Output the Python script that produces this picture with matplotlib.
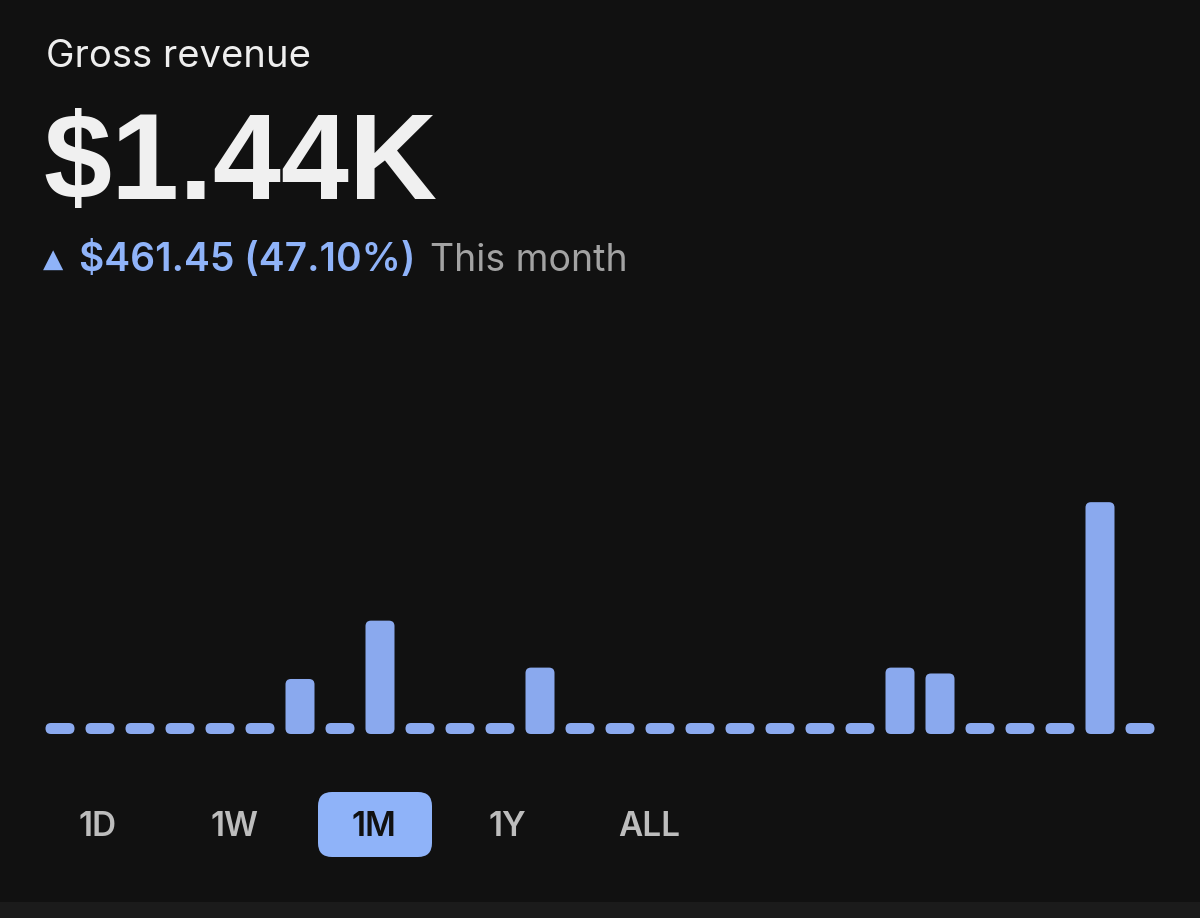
import matplotlib
matplotlib.use("Agg")
import matplotlib.pyplot as plt
from matplotlib.patches import FancyBboxPatch, Rectangle

# daily gross revenue for the month (USD)
days = list(range(1, 29))
revenue = [0, 0, 0, 0, 0, 0, 120, 0, 279, 0, 0, 0, 151, 0,
           0, 0, 0, 0, 0, 0, 0, 151, 135, 0, 0, 0, 602, 0]

title = "Gross revenue"
total_label = "$1.44K"
change_label = "$461.45 (47.10%)"
period_label = "This month"
ranges = ["1D", "1W", "1M", "1Y", "ALL"]
selected = "1M"

BG = "#111111"
BAR = "#8aa9ee"
ACCENT = "#8fb3f9"
W, H = 1200, 918

plt.rcParams['font.family'] = ['Inter', 'DejaVu Sans']

fig = plt.figure(figsize=(W / 100, H / 100), dpi=100, facecolor=BG)

# bar chart: zero line sits at y=728 px, one bar every 40 px from x=60
ax = fig.add_axes([0, (H - 728.5) / H, 1, 300 / H])
ax.set_facecolor("none")
ax.set_xlim(-1.5, 28.5)
ax.set_ylim(0, 300 * 2.726)
ax.axis("off")

x = [d - 1 for d in days]
bars = ax.bar(x, revenue, width=0.725, color=BAR)

# swap the square bars for pills; zero days become short dashes
ux = 1 / 40.0            # x data units per pixel
uy = 2.726               # y data units per pixel
pad = 5.5 * uy
for r in bars:
    r.set_visible(False)
    p = FancyBboxPatch((r.get_x(), r.get_y() - pad), r.get_width(),
                       r.get_height() + 2 * pad,
                       boxstyle="round,pad=0,rounding_size=%f" % (5.5 * ux),
                       mutation_aspect=uy / ux, fc=BAR, ec="none",
                       clip_on=False)
    ax.add_patch(p)

# overlay in pixel coordinates for the header and range buttons
ui = fig.add_axes([0, 0, 1, 1])
ui.set_facecolor("none")
ui.set_xlim(0, W)
ui.set_ylim(H, 0)
ui.axis("off")

ui.add_patch(Rectangle((0, 902), W, 16, color="#1b1b1b", lw=0))

ui.text(46, 67, title, fontsize=27.5, color="#eeeeee", va="baseline", ha="left")
ui.text(43, 199, total_label, fontsize=88, fontweight="bold", color="#f0f0f0",
        va="baseline", ha="left",
        family=["Liberation Sans", "DejaVu Sans"])

ui.text(43, 267, "\u25b2", fontsize=19, color=ACCENT, va="baseline", ha="left",
        family=["DejaVu Sans"])
ui.text(79, 271, change_label, fontsize=28, fontweight="semibold",
        color=ACCENT, va="baseline", ha="left")
ui.text(430, 271, period_label, fontsize=27, color="#a3a3a3",
        va="baseline", ha="left")

btn_x = [98, 235, 374, 507, 649]
for lab, bx in zip(ranges, btn_x):
    if lab == selected:
        ui.add_patch(FancyBboxPatch((318, 792), 114, 65,
                                    boxstyle="round,pad=0,rounding_size=14",
                                    fc=ACCENT, ec="none"))
        col = "#111111"
    else:
        col = "#bdbdbd"
    ui.text(bx, 836, lab, fontsize=24, fontweight="semibold", color=col,
            ha="center", va="baseline")

fig.savefig("out.png", dpi=100, facecolor=BG)
